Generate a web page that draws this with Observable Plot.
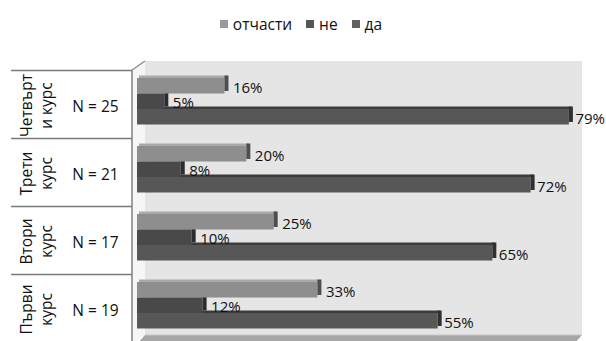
<!DOCTYPE html>
<html><head><meta charset="utf-8">
<script src="https://cdn.jsdelivr.net/npm/d3@7"></script>
<script src="https://cdn.jsdelivr.net/npm/@observablehq/plot@0.6"></script>
<style>
body{margin:0;background:#fff;font-family:"Open Sans",sans-serif;}
#legend{height:48px;display:flex;justify-content:center;align-items:flex-start;padding-left:10px;box-sizing:border-box;}
.item{display:flex;align-items:center;font-size:15.5px;color:#111;margin-top:13px;margin-right:14px;}
.sw{width:8px;height:8px;margin-right:5px;}
</style></head><body>
<div id="legend"></div>
<div id="chart"></div>
<script>
const groupKeys = ["Четвърт\nи курс", "Трети\nкурс", "Втори\nкурс", "Първи\nкурс"];
const nLabels = ["N = 25", "N = 21", "N = 17", "N = 19"];
const series = ["отчасти", "не", "да"];
const partly = [16, 20, 25, 33];
const no = [5, 8, 10, 12];
const yes = [79, 72, 65, 55];

const colors = {"отчасти": "#8e8e8e", "не": "#494949", "да": "#575757"};
const topColors = {"отчасти": "#a9a9a9", "не": "#3a3a3a", "да": "#3c3c3c"};
const endColors = {"отчасти": "#4e4e4e", "не": "#2c2c2c", "да": "#303030"};
const legendColors = {"отчасти": "#9a9a9a", "не": "#555555", "да": "#606060"};

const values = {"отчасти": partly, "не": no, "да": yes};
const rows = [];
groupKeys.forEach((g, i) => series.forEach(s => rows.push({group: g, series: s, value: values[s][i]})));

// legend
const legend = document.getElementById("legend");
series.forEach(s => {
  const it = document.createElement("div"); it.className = "item";
  const sw = document.createElement("div"); sw.className = "sw"; sw.style.background = legendColors[s];
  const tx = document.createElement("span"); tx.textContent = s;
  it.appendChild(sw); it.appendChild(tx); legend.appendChild(it);
});

const BAND = 68;
const slots = {"отчасти": [10, 42.5], "не": [25.5, 27], "да": [41, 11.5]};
const labelDy = {"отчасти": -14, "не": 0.5, "да": 17};
const labelDx = {"отчасти": 8, "не": 8, "да": 6};

const marks = [];
["да", "не", "отчасти"].forEach(s => {
  const d = rows.filter(r => r.series === s);
  const [t, b] = slots[s];
  marks.push(Plot.barX(d, {x: "value", y: "group", insetTop: t - 2.5, insetBottom: BAND - t, fill: topColors[s], dx: 2}));
  marks.push(Plot.barX(d, {x: "value", y: "group", insetTop: t, insetBottom: b, fill: colors[s]}));
  marks.push(Plot.barX(d, {x1: "value", x2: "value", y: "group", insetTop: t - 2.5, insetBottom: b + 2.5, insetRight: -4, fill: endColors[s]}));
});
series.forEach(s => {
  marks.push(Plot.text(rows.filter(r => r.series === s), {x: "value", y: "group", text: r => r.value + "%", dx: labelDx[s], dy: labelDy[s], textAnchor: "start", fill: "#111", fontSize: 15}));
});
marks.push(Plot.text(groupKeys, {y: d => d, text: d => d, frameAnchor: "left", dx: -102, dy: 3, rotate: -90, textAnchor: "middle", lineHeight: 1.3, fontSize: 15.5, fill: "#111"}));
marks.push(Plot.text(groupKeys, {y: d => d, text: (d, i) => nLabels[i], frameAnchor: "left", dx: -42, dy: 4.5, textAnchor: "middle", fontSize: 15.5, fill: "#111"}));

const chart = Plot.plot({
  width: 606, height: 293,
  marginLeft: 137, marginRight: 24, marginTop: 20, marginBottom: 1,
  style: {fontFamily: "Open Sans", fontSize: "15px", background: "transparent", overflow: "visible"},
  x: {domain: [0, 81.4], axis: null},
  y: {domain: groupKeys, axis: null, padding: 0},
  marks
});
document.getElementById("chart").appendChild(chart);

// 3D walls, floor and table lines drawn from the plot's scales
const sx = chart.scale("x"), sy = chart.scale("y");
const x0 = sx.apply(0), xR = sx.range[1];
const yT = sy.range[0], yB = sy.range[1];
const deco = d3.select(chart).insert("g", ":first-child");
deco.append("rect").attr("x", x0 + 8).attr("y", yT - 7).attr("width", xR - x0 - 8).attr("height", (yB - 5) - (yT - 7)).attr("fill", "#e5e5e5");
deco.append("path").attr("d", `M${x0 - 5},${yT + 2}L${x0 + 8},${yT - 7}L${x0 + 8},${yB - 5}L${x0 - 5},${yB + 4}Z`).attr("fill", "#f6f6f6");
deco.append("path").attr("d", `M${x0 - 5},${yT + 2}L${x0 + 8},${yT - 7}`).attr("stroke", "#8a8a8a").attr("stroke-width", 1.3).attr("fill", "none");
deco.append("path").attr("d", `M${x0},${yB + 4}L${x0 + 8},${yB - 5}L${xR},${yB - 5}L${xR - 8},${yB + 4}Z`).attr("fill", "#a6a6a6");
deco.append("path").attr("d", `M${x0 + 8},${yB - 5}L${xR},${yB - 5}`).attr("stroke", "#c8c8c8").attr("stroke-width", 1);
groupKeys.forEach(g => {
  const yy = sy.apply(g) + 2.5;
  deco.append("line").attr("x1", 11).attr("x2", x0 - 5).attr("y1", yy).attr("y2", yy).attr("stroke", "#7a7a7a").attr("stroke-width", 1.4);
});
deco.append("line").attr("x1", x0 - 5).attr("x2", x0 - 5).attr("y1", yT + 2).attr("y2", yB + 4).attr("stroke", "#7a7a7a").attr("stroke-width", 1.4);
</script>
</body></html>
